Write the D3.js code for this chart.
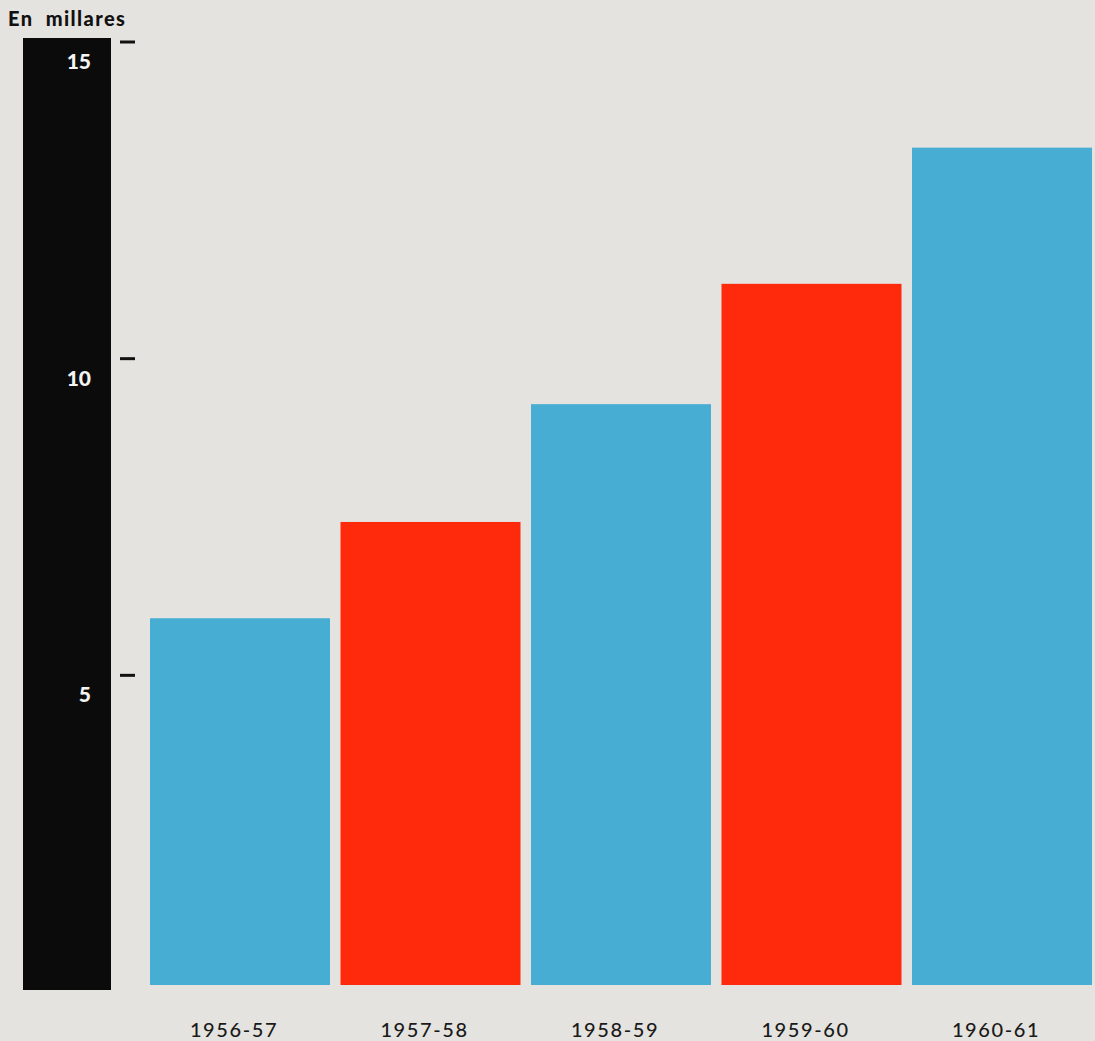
<!DOCTYPE html>
<html>
<head>
<meta charset="utf-8">
<script src="https://cdn.jsdelivr.net/npm/d3@7"></script>
<style>
  html, body { margin: 0; padding: 0; background: #e5e3df; overflow: hidden; }
  svg { display: block; }
</style>
</head>
<body>
<script>
const years = ["1956-57", "1957-58", "1958-59", "1959-60", "1960-61"];
const values = [5.87, 7.39, 9.25, 11.15, 13.3];
const barColors = ["#48add2", "#ff2a0c", "#48add2", "#ff2a0c", "#48add2"];
const tickValues = [5, 10, 15];
const tickLabels = ["5", "10", "15"];
const unitLabel = "En  millares";

const W = 1095, H = 1041;
const svg = d3.select("body").append("svg")
  .attr("width", W).attr("height", H);

svg.append("rect").attr("width", W).attr("height", H).attr("fill", "#e5e3df");

const y = d3.scaleLinear().domain([0, 15]).range([990, 40]);
const x = d3.scaleBand().domain(years).range([144.75, 1097.25])
  .paddingInner(0.0551).paddingOuter(0.02755);

// black scale column
svg.append("rect")
  .attr("x", 23).attr("width", 88)
  .attr("y", y(15) - 2).attr("height", y(0) - y(15) + 2)
  .attr("fill", "#0b0b0b");

// unit label
svg.append("text")
  .attr("x", 8).attr("y", 26)
  .attr("font-family", "Lato, 'DejaVu Sans', sans-serif")
  .attr("font-weight", 900)
  .attr("font-size", 20)
  .attr("letter-spacing", 1.4)
  .attr("fill", "#111")
  .style("white-space", "pre")
  .text(unitLabel);

// tick marks
svg.selectAll(".tick-mark").data(tickValues).join("line")
  .attr("class", "tick-mark")
  .attr("x1", 120).attr("x2", 135)
  .attr("y1", d => y(d) + 2).attr("y2", d => y(d) + 2)
  .attr("stroke", "#111").attr("stroke-width", 3);

// tick labels inside black column
svg.selectAll(".tick-label").data(tickValues).join("text")
  .attr("class", "tick-label")
  .attr("x", 91)
  .attr("y", d => y(d) + 29)
  .attr("text-anchor", "end")
  .attr("font-family", "Lato, 'DejaVu Sans', sans-serif")
  .attr("font-weight", 900)
  .attr("font-size", 21)
  .attr("fill", "#f4f4f4")
  .text((d, i) => tickLabels[i]);

// bars
svg.selectAll(".bar").data(values).join("rect")
  .attr("class", "bar")
  .attr("x", (d, i) => x(years[i]))
  .attr("width", x.bandwidth())
  .attr("y", d => y(d))
  .attr("height", d => y(0) - 5 - y(d))
  .attr("fill", (d, i) => barColors[i]);

// year labels
svg.selectAll(".year").data(years).join("text")
  .attr("class", "year")
  .attr("x", d => x(d) + x.bandwidth() / 2 - 6)
  .attr("y", 1037)
  .attr("text-anchor", "middle")
  .attr("font-family", "Lato, 'DejaVu Sans', sans-serif")
  .attr("font-weight", 500)
  .attr("font-size", 20)
  .attr("letter-spacing", 1.6)
  .attr("fill", "#1a1a1a")
  .text(d => d);
</script>
</body>
</html>
